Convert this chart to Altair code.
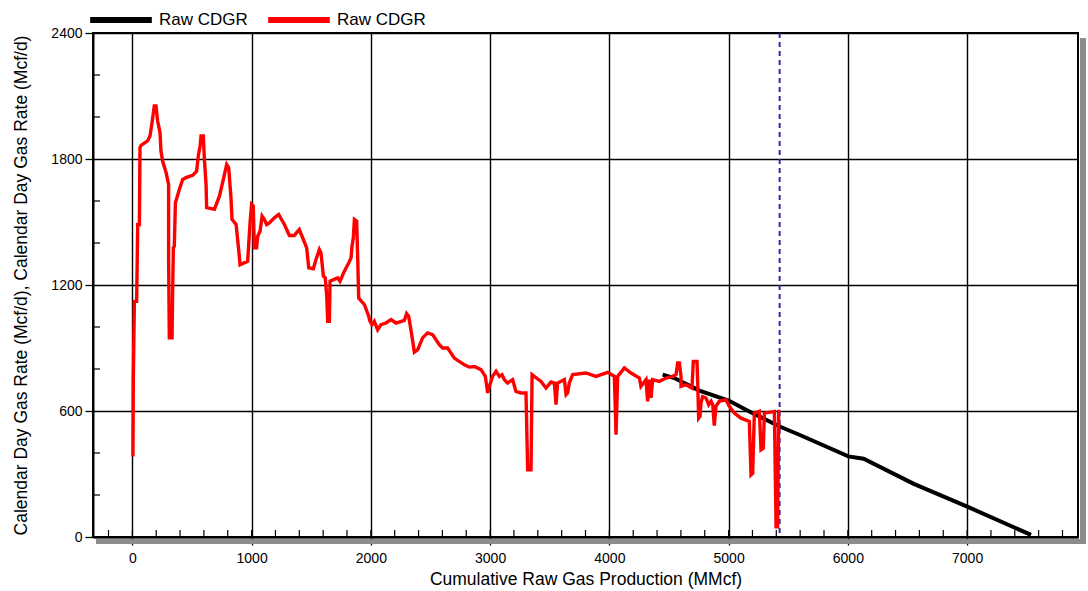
import altair as alt
import pandas as pd

# Raw calendar-day gas rate history (cumulative MMcf, Mcf/d)
red_x = [5, 8, 17, 36, 45, 59, 64, 73, 128, 148, 165, 184, 198, 212, 232, 240, 254, 283, 304, 304,
         310, 333, 338, 344, 352, 361, 394, 422, 450, 506, 539, 553, 568, 576, 595, 604, 618, 623,
         688, 730, 763, 791, 808, 827, 836, 870, 897, 903, 967, 987, 1000, 1014, 1023, 1042, 1051,
         1071, 1088, 1107, 1126, 1149, 1191, 1227, 1275, 1317, 1358, 1400, 1428, 1462, 1479, 1518,
         1540, 1568, 1582, 1602, 1618, 1630, 1638, 1652, 1658, 1722, 1741, 1778, 1814, 1834, 1842,
         1853, 1862, 1881, 1890, 1898, 1946, 1982, 1993, 2010, 2029, 2057, 2085, 2127, 2169, 2211,
         2281, 2300, 2317, 2329, 2345, 2365, 2393, 2434, 2476, 2518, 2574, 2602, 2644, 2700, 2784,
         2826, 2868, 2924, 2960, 2980, 2994, 3021, 3050, 3078, 3100, 3120, 3147, 3189, 3217, 3259,
         3301, 3315, 3343, 3352, 3427, 3469, 3511, 3539, 3553, 3566, 3623, 3637, 3650, 3664, 3692,
         3804, 3888, 3986, 4042, 4056, 4070, 4126, 4182, 4252, 4265, 4307, 4321, 4335, 4350, 4363,
         4419, 4476, 4531, 4559, 4573, 4587, 4601, 4601, 4643, 4693, 4704, 4735, 4741, 4749, 4760,
         4768, 4782, 4810, 4833, 4853, 4867, 4880, 4894, 4922, 4978, 5006, 5048, 5104, 5174, 5188,
         5202, 5216, 5258, 5272, 5291, 5300, 5384, 5398, 5411, 5420]
red_y = [383, 749, 1122, 1122, 1488, 1488, 1854, 1865, 1886, 1910, 1973, 2053, 2053, 1981, 1926, 1838,
         1790, 1735, 1679, 1321, 948, 948, 1178, 1377, 1385, 1592, 1655, 1703, 1711, 1722, 1742,
         1814, 1862, 1910, 1910, 1798, 1679, 1568, 1560, 1623, 1703, 1774, 1758, 1615, 1512, 1488,
         1337, 1297, 1313, 1496, 1584, 1576, 1377, 1377, 1432, 1456, 1528, 1512, 1488, 1496, 1520,
         1536, 1488, 1436, 1436, 1464, 1425, 1377, 1282, 1277, 1321, 1369, 1353, 1242, 1234, 1146,
         1027, 1027, 1218, 1234, 1218, 1266, 1305, 1329, 1385, 1425, 1512, 1504, 1321, 1138, 1107,
         1051, 1027, 1011, 1027, 987, 1011, 1019, 1035, 1019, 1032, 1064, 1051, 1011, 955, 880, 892,
         948, 972, 964, 916, 900, 900, 852, 820, 809, 812, 797, 765, 686, 717, 765, 789, 765, 773,
         749, 733, 749, 693, 686, 686, 320, 320, 773, 741, 709, 738, 733, 630, 733, 749, 678, 686,
         733, 773, 781, 765, 784, 765, 487, 765, 805, 781, 757, 717, 749, 646, 749, 662, 749, 741,
         757, 765, 773, 829, 829, 765, 717, 725, 709, 836, 836, 733, 566, 574, 638, 669, 662, 630,
         646, 630, 530, 622, 646, 654, 622, 590, 566, 550, 296, 304, 590, 598, 415, 423, 590, 598,
         49, 49, 606]

# Forecast decline of the same rate
black_x = [4447, 4545, 4755, 5000, 5174, 5428, 5593, 6004, 6132, 6553, 7016, 7536]
black_y = [773, 757, 697, 650, 598, 526, 487, 384, 373, 253, 141, 10]

# Cumulative production at the end of history
cutoff_x = [5428]

x_major = [0, 1000, 2000, 3000, 4000, 5000, 6000, 7000]
y_major = [0, 600, 1200, 1800, 2400]
x_minor = list(range(-200, 7900, 200))
y_minor = [v for v in range(200, 2400, 200) if v % 600]

X_DOMAIN = [-330, 7930]
Y_DOMAIN = [0, 2400]
W, H = 985, 504
FONT = "Liberation Sans, Arial, sans-serif"
SYM = 3800  # stroke symbol: length is sqrt(size)
SERIES = ["forecast", "history"]

red = pd.DataFrame({"x": red_x, "y": red_y, "series": "history"})
red["i"] = range(len(red))
black = pd.DataFrame({"x": black_x, "y": black_y, "series": "forecast"})
black["i"] = range(len(black))

xs = alt.Scale(domain=X_DOMAIN, nice=False, zero=False)
ys = alt.Scale(domain=Y_DOMAIN, nice=False, zero=False)

x_axis = alt.Axis(values=x_major, title="Cumulative Raw Gas Production (MMcf)", tickSize=8,
                  labelPadding=6, titlePadding=5, format="d")
y_axis = alt.Axis(values=y_major, title="Calendar Day Gas Rate (Mcf/d), Calendar Day Gas Rate (Mcf/d)",
                  tickSize=8, labelPadding=3, titlePadding=20, format="d")

color = alt.Color(
    "series:N",
    scale=alt.Scale(domain=SERIES, range=["black", "#ff0000"]),
    legend=alt.Legend(
        title=None, orient="none", direction="horizontal", legendX=-6, legendY=-47,
        symbolType="stroke", symbolSize=SYM, symbolStrokeWidth=6, labelExpr="'Raw CDGR'",
        labelFontSize=17, labelFont=FONT, labelOffset=4, columnPadding=8,
    ),
)


def curve(df, width):
    return alt.Chart(df).mark_line(strokeWidth=width, strokeJoin="miter").encode(
        x=alt.X("x:Q", scale=xs, axis=x_axis),
        y=alt.Y("y:Q", scale=ys, axis=y_axis),
        color=color,
        order="i:Q",
    )


cutoff = alt.Chart(pd.DataFrame({"x": cutoff_x})).mark_rule(
    color="#2a2ab0", strokeWidth=2, strokeDash=[5, 4]
).encode(x=alt.X("x:Q", scale=xs))

# Minor ticks drawn inside the frame
x_minor_ticks = alt.Chart(pd.DataFrame({"x": x_minor})).mark_rule(color="black", strokeWidth=1.2).encode(
    x=alt.X("x:Q", scale=xs), y=alt.value(H), y2=alt.value(H - 7)
)
y_minor_ticks = alt.Chart(pd.DataFrame({"y": y_minor})).mark_rule(color="black", strokeWidth=1.2).encode(
    y=alt.Y("y:Q", scale=ys), x=alt.value(0), x2=alt.value(7)
)

# Drop shadow along the bottom and right edges of the frame
shadow_bottom = alt.Chart(pd.DataFrame({"k": [0]})).mark_rect(color="#8c8c8c").encode(
    x=alt.value(3), x2=alt.value(W + 8), y=alt.value(H + 2), y2=alt.value(H + 7)
)
shadow_right = alt.Chart(pd.DataFrame({"k": [0]})).mark_rect(color="#8c8c8c").encode(
    x=alt.value(W + 2), x2=alt.value(W + 8), y=alt.value(5), y2=alt.value(H + 7)
)

chart = alt.layer(
    shadow_bottom, shadow_right, x_minor_ticks, y_minor_ticks, cutoff,
    curve(black, 4), curve(red, 3.4),
).properties(
    width=W, height=H,
    autosize=alt.AutoSizeParams(type="none"),
    padding={"left": 93, "top": 33, "right": 10, "bottom": 54},
    background="white",
).configure_view(
    stroke="black", strokeWidth=2
).configure_axis(
    grid=True, gridColor="black", gridWidth=1.4, gridOpacity=1,
    domainColor="black", domainWidth=2, tickColor="black", tickWidth=1.3,
    labelFont=FONT, labelFontSize=14, labelColor="black",
    titleFont=FONT, titleFontSize=17.5, titleFontWeight="normal", titleColor="black",
)

chart.save("out.html", embed_options={"renderer": "svg", "actions": False})
